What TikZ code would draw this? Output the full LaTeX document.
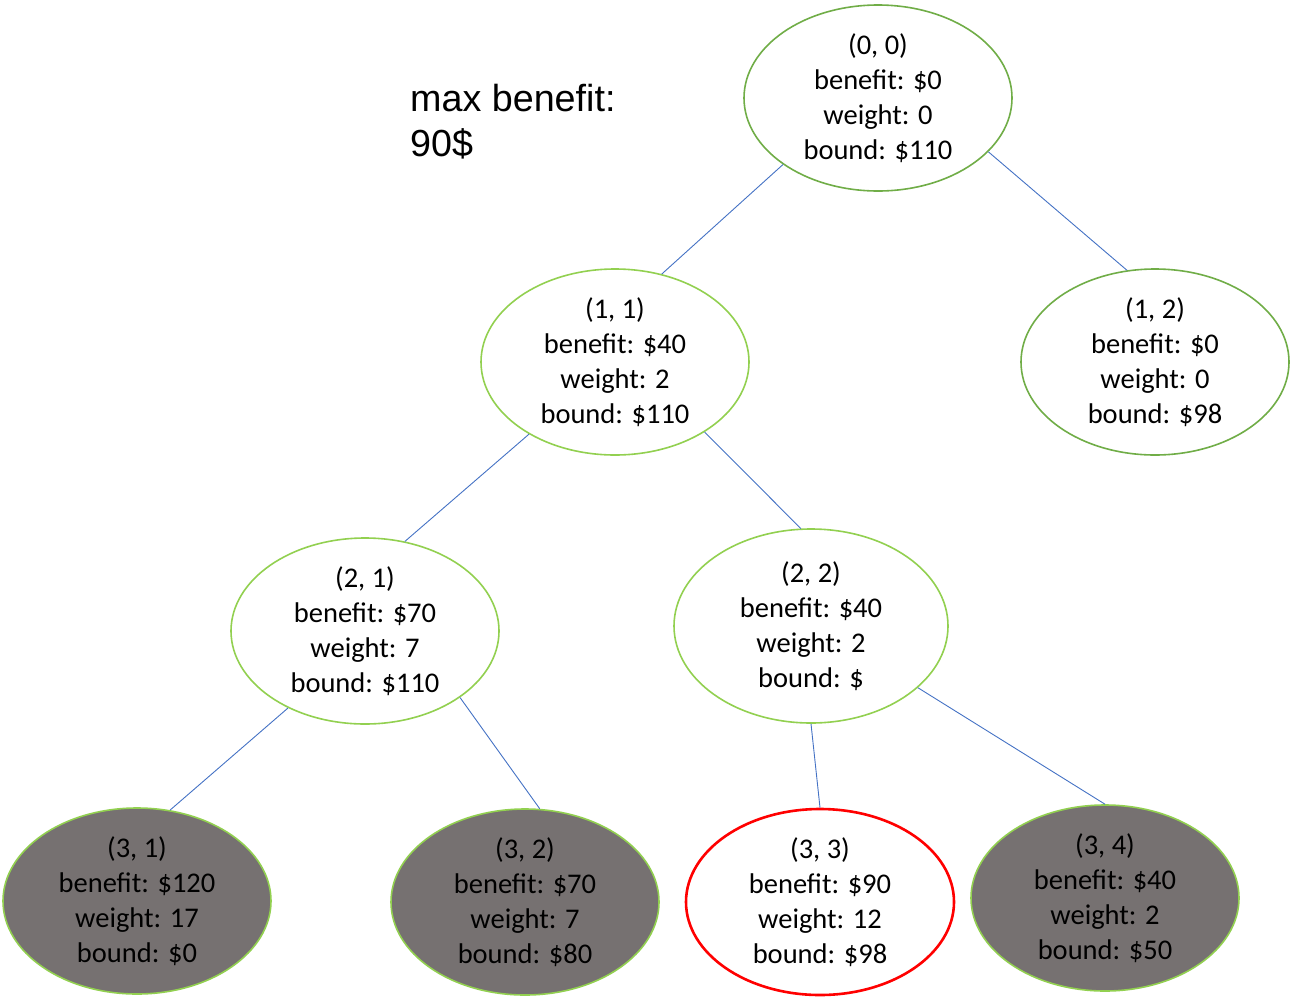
\documentclass[tikz,border=0pt]{standalone}
\usepackage{fontspec}
\setmainfont{Carlito}
\newfontfamily\notefont{Liberation Sans}
\usepackage{tikz}
\usetikzlibrary{shapes.geometric}
\definecolor{darkleaf}{HTML}{70AD47}
\definecolor{lightleaf}{HTML}{92D050}
\definecolor{prunegray}{HTML}{767171}
\definecolor{edgeblue}{HTML}{4472C4}
\tikzset{
  knode/.style={ellipse, draw=darkleaf, line width=1.6pt, fill=white,
    minimum width=268pt, minimum height=186pt, inner sep=0pt, align=center,
    font=\fontsize{28.5}{35}\selectfont},
  openn/.style={knode, draw=lightleaf},
  pruned/.style={knode, fill=prunegray, draw=lightleaf},
  best/.style={knode, draw=red, line width=2.6pt},
  branch/.style={draw=edgeblue, line width=0.9pt}
}

\begin{document}
\begin{tikzpicture}[x=1pt,y=-1pt]
  \useasboundingbox (0,0) rectangle (1293,997);
  \node[anchor=north west, inner sep=0pt, align=left,
        font=\notefont\fontsize{37.7}{45}\selectfont] (note) at (410,84) {max benefit:\\90\$};

  \node[knode] (n00) at (878,98) {(0, 0)\\benefit: \$0\\weight: 0\\bound: \$110};
  \node[openn] (n11) at (615,362) {(1, 1)\\benefit: \$40\\weight: 2\\bound: \$110};
  \node[knode] (n12) at (1155,362) {(1, 2)\\benefit: \$0\\weight: 0\\bound: \$98};
  \node[openn] (n21) at (365,631) {(2, 1)\\benefit: \$70\\weight: 7\\bound: \$110};
  \node[openn, minimum width=274pt, minimum height=194pt] (n22) at (811,626) {(2, 2)\\benefit: \$40\\weight: 2\\bound: \$};
  \node[pruned] (n31) at (137,901) {(3, 1)\\benefit: \$120\\weight: 17\\bound: \$0};
  \node[pruned] (n32) at (525,902) {(3, 2)\\benefit: \$70\\weight: 7\\bound: \$80};
  \node[best] (n33) at (820,902) {(3, 3)\\benefit: \$90\\weight: 12\\bound: \$98};
  \node[pruned] (n34) at (1105,898) {(3, 4)\\benefit: \$40\\weight: 2\\bound: \$50};

  \draw[branch] (n00.215) -- (n11.62);
  \draw[branch] (n00.334) -- (n12.107);
  \draw[branch] (n11.220) -- (n21.66);
  \draw[branch] (n11.322) -- (n22.96);
  \draw[branch] (n21.225) -- (n31.70);
  \draw[branch] (n21.325) -- (n32.81);
  \draw[branch] (n22.270) -- (n33.90);
  \draw[branch] (n22.330) -- (n34.90);
\end{tikzpicture}
\end{document}
